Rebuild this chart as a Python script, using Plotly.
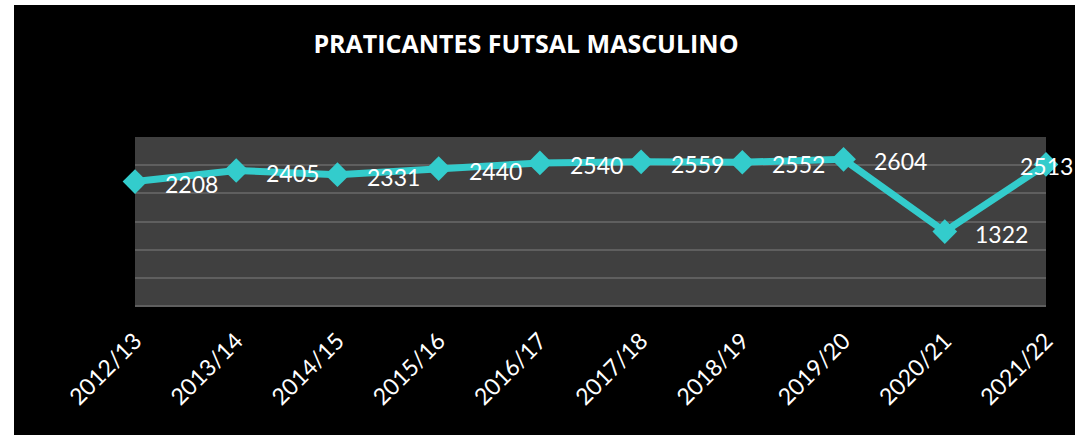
import plotly.graph_objects as go

seasons = ["2012/13", "2013/14", "2014/15", "2015/16", "2016/17",
           "2017/18", "2018/19", "2019/20", "2020/21", "2021/22"]
players = [2208, 2405, 2331, 2440, 2540, 2559, 2552, 2604, 1322, 2513]

title_text = "PRATICANTES FUTSAL MASCULINO"
line_color = "#33CCCC"

W, H = 1075, 435
L, R, T, B = 135, 29, 137, 129
pw, ph = W - L - R, H - T - B

fig = go.Figure()
fig.add_trace(go.Scatter(
    x=seasons, y=players, mode="lines+markers",
    line=dict(color=line_color, width=7),
    marker=dict(symbol="diamond", size=19, color=line_color),
    cliponaxis=False, hoverinfo="skip", showlegend=False,
))

annotations = []
for i, (s, v) in enumerate(zip(seasons, players)):
    last = i == len(seasons) - 1
    annotations.append(dict(
        x=s, y=v, xref="x", yref="y", text=str(v), showarrow=False,
        xanchor="left", yanchor="middle",
        xshift=-28 if last else 28, yshift=-2,
        font=dict(family="Lato", size=23, color="white"),
    ))

# thin white margins on left and top of the black card
shapes = [
    dict(type="rect", xref="paper", yref="paper", layer="above",
         x0=-L / pw, x1=(14 - L) / pw, y0=-B / ph, y1=(H - B) / ph,
         fillcolor="white", line=dict(width=0)),
    dict(type="rect", xref="paper", yref="paper", layer="above",
         x0=-L / pw, x1=(W - L) / pw, y0=(H - B - 5) / ph, y1=(H - B) / ph,
         fillcolor="white", line=dict(width=0)),
]

fig.update_layout(
    width=W, height=H,
    margin=dict(l=L, r=R, t=T, b=B, pad=0),
    paper_bgcolor="black", plot_bgcolor="#404040",
    title=dict(text="<b>" + title_text + "</b>", x=526 / W, xanchor="center",
               y=1 - 44 / H, yanchor="middle",
               font=dict(family="Open Sans", size=25, color="white")),
    annotations=annotations, shapes=shapes,
    xaxis=dict(range=[0, len(seasons) - 1], showgrid=False, zeroline=False,
               tickangle=-45, ticks="", ticklabelstandoff=16,
               tickfont=dict(family="Lato", size=23, color="white"),
               showline=False),
    yaxis=dict(range=[0, 3000], dtick=500, showticklabels=False,
               gridcolor="#5f5f5f", gridwidth=1.5, zeroline=True,
               zerolinecolor="#5f5f5f", zerolinewidth=1.5, ticks=""),
)

fig.write_html(
    "out.html",
    config={"displayModeBar": False},
    post_script="document.body.style.margin='0';document.body.style.overflow='hidden';",
)
